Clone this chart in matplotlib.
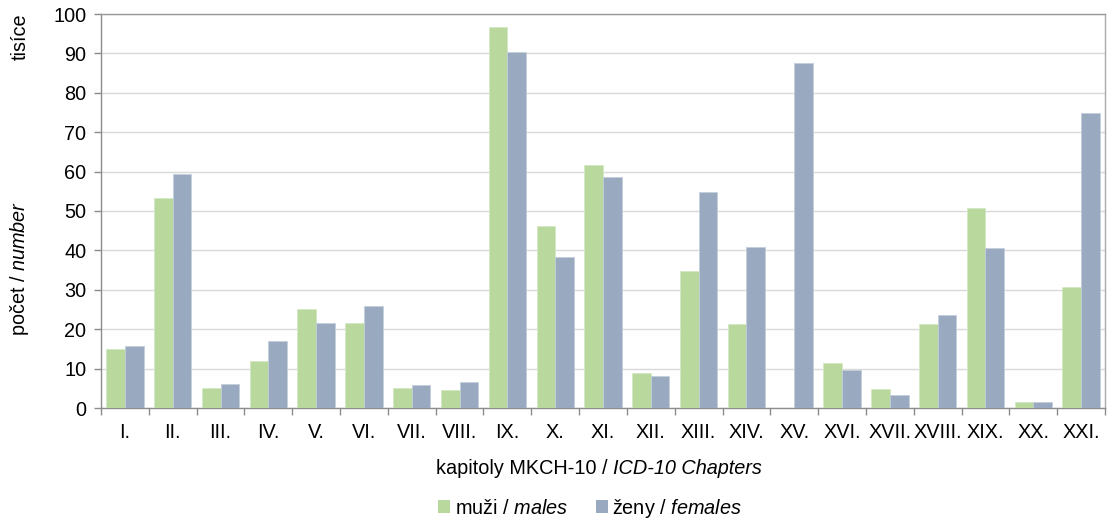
import matplotlib
matplotlib.use("Agg")
import matplotlib.pyplot as plt
import numpy as np
from matplotlib.patches import Patch

plt.rcParams['font.family'] = ['Liberation Sans', 'DejaVu Sans']
plt.rcParams['mathtext.fontset'] = 'custom'
plt.rcParams['mathtext.rm'] = 'Liberation Sans'
plt.rcParams['mathtext.it'] = 'Liberation Sans:italic'

categories = ["I.", "II.", "III.", "IV.", "V.", "VI.", "VII.", "VIII.", "IX.", "X.", "XI.",
              "XII.", "XIII.", "XIV.", "XV.", "XVI.", "XVII.", "XVIII.", "XIX.", "XX.", "XXI."]
males = [15.0, 53.4, 5.0, 12.0, 25.2, 21.7, 5.0, 4.5, 96.7, 46.3, 61.8,
         8.8, 34.7, 21.4, 0.0, 11.4, 4.7, 21.2, 50.7, 1.6, 30.8]
females = [15.7, 59.3, 6.2, 17.0, 21.5, 26.0, 5.8, 6.5, 90.4, 38.3, 58.6,
           8.1, 54.8, 40.9, 87.5, 9.6, 3.2, 23.6, 40.7, 1.4, 74.8]
yticks = [0, 10, 20, 30, 40, 50, 60, 70, 80, 90, 100]

green = '#b8d89e'
blue = '#98a9c0'
gray = '#8c8c8c'
fs = 14.3

fig = plt.figure(figsize=(11.14, 5.2), dpi=100)
ax = fig.add_axes([101/1114, 1 - 408/520, (1105 - 101)/1114, (408 - 14)/520])

x = np.arange(len(categories))
w = 0.39
ax.bar(x - w/2, males, width=w, color=green, edgecolor='#d4e8c4', linewidth=0.6, zorder=3)
ax.bar(x + w/2, females, width=w, color=blue, edgecolor='#c4cedb', linewidth=0.6, zorder=3)

ax.set_xlim(-0.5, len(categories) - 0.5)
ax.set_ylim(0, 100)
ax.set_yticks(yticks)
ax.yaxis.grid(True, color='#d9d9d9', linewidth=1.0, zorder=0)
ax.set_axisbelow(True)

ax.set_xticks(np.arange(-0.5, len(categories), 1.0))
ax.set_xticklabels([])
ax.set_xticks(x, minor=True)
ax.set_xticklabels(categories, minor=True, fontsize=fs)
ax.tick_params(axis='x', which='major', length=5, color=gray, width=1)
ax.tick_params(axis='x', which='minor', length=0, pad=11)
ax.tick_params(axis='y', length=5, color=gray, width=1, labelsize=fs, pad=5.5)

for s in ax.spines.values():
    s.set_color(gray)
    s.set_linewidth(1.0)
ax.spines['top'].set_color('#999999')
ax.spines['right'].set_color('#aaaaaa')

fig.text(20/1114, 1 - 37/520, "tisíce", rotation=90, ha='center', va='center', fontsize=fs)
fig.text(20/1114, 1 - 268/520, "počet / $\\mathit{number}$", rotation=90, ha='center', va='center', fontsize=fs)

fig.text(613/1114, 1 - 468/520, "kapitoly MKCH-10 / ", ha='right', va='center', fontsize=fs)
fig.text(613/1114, 1 - 468/520, "ICD-10 Chapters", ha='left', va='center', fontsize=fs, style='italic')

handles = [Patch(facecolor=green, edgecolor='none'), Patch(facecolor=blue, edgecolor='none')]
labels = ["muži / $\\mathit{males}$", "ženy / $\\mathit{females}$"]
fig.legend(handles, labels, loc='center', bbox_to_anchor=(590/1114, 1 - 508/520), ncol=2,
           frameon=False, fontsize=fs, handlelength=0.6, handleheight=0.6,
           handletextpad=0.25, columnspacing=1.4)

fig.savefig("out.png", dpi=100)
